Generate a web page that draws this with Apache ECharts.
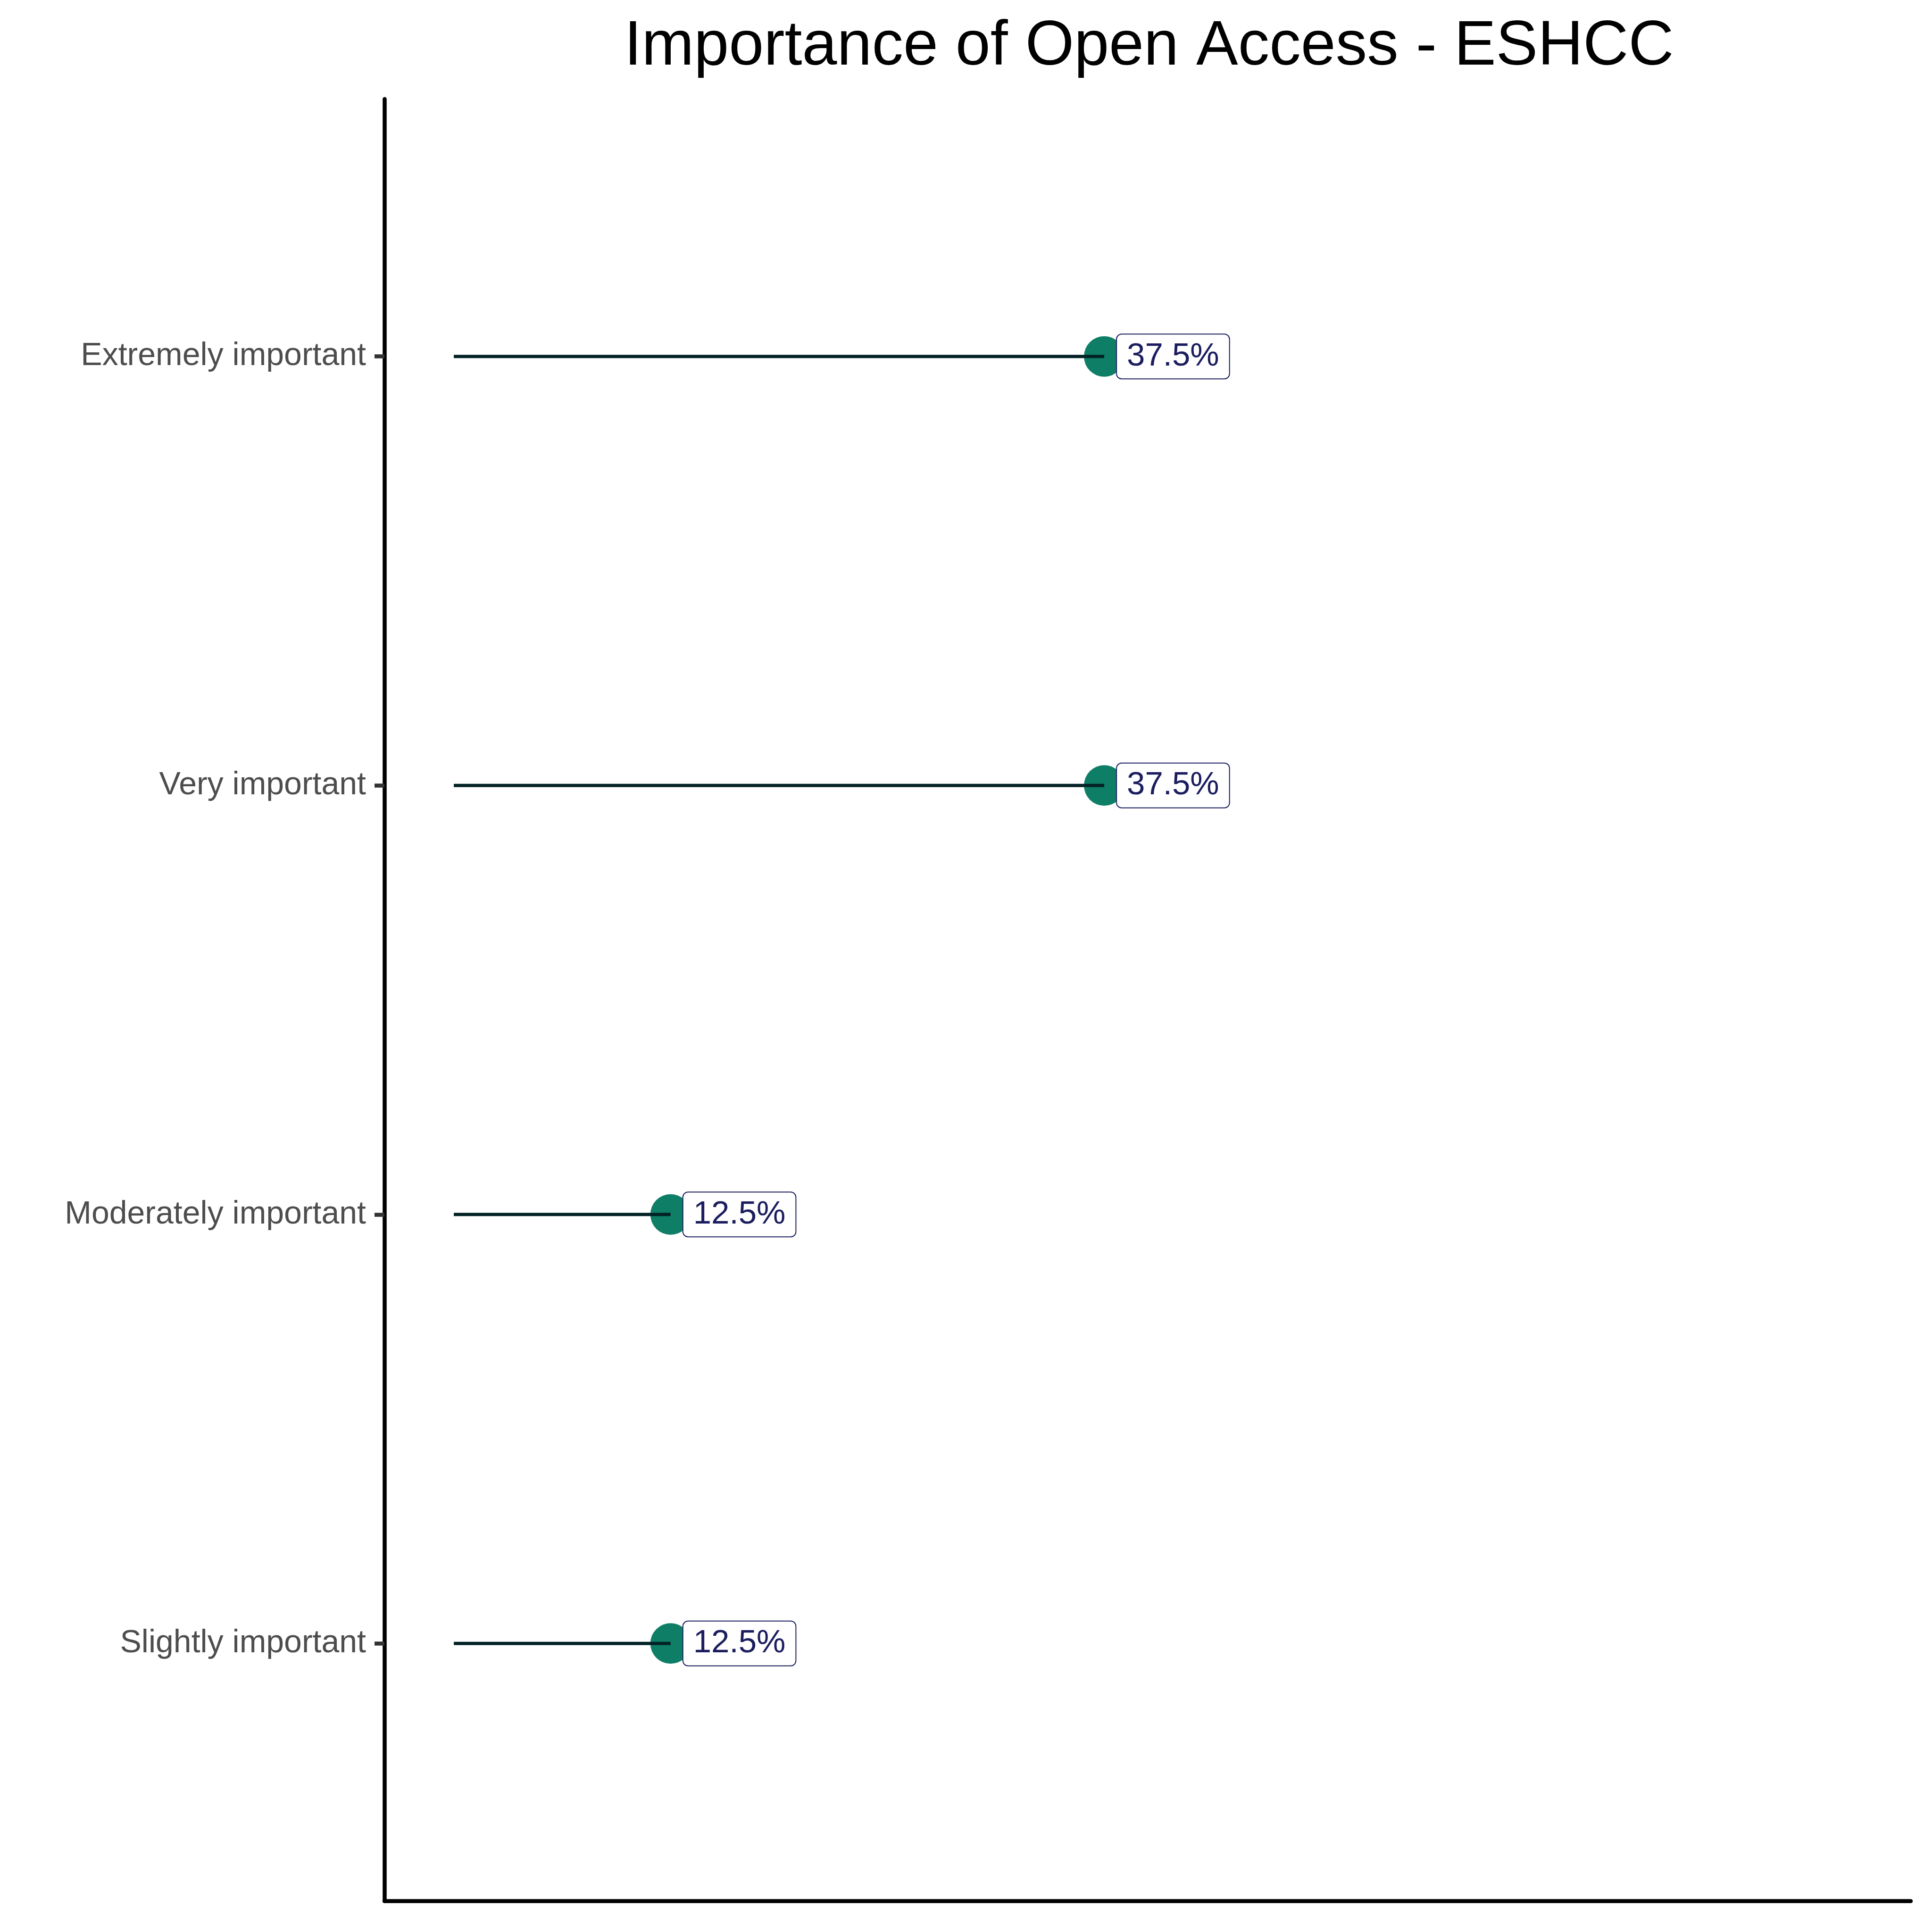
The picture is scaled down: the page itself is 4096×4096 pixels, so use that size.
<!DOCTYPE html>
<html><head><meta charset="utf-8">
<script src="https://cdn.jsdelivr.net/npm/echarts@6/dist/echarts.min.js"></script>
<style>html,body{margin:0;padding:0;background:#fff}#c{width:4096px;height:4096px}</style>
</head><body><div id="c"></div>
<script>
const titleText = 'Importance of Open Access - ESHCC';
const categories = ['Extremely important', 'Very important', 'Moderately important', 'Slightly important'];
const percents = [37.5, 37.5, 12.5, 12.5];
const yTickValues = [0, 1, 2, 3];

const n = categories.length;
const points = percents.map((v, i) => [v, n - 1 - i]);
const FONT = 'Liberation Sans';
const chart = echarts.init(document.getElementById('c'), null, {renderer: 'canvas'});

const option = {
  animation: false,
  backgroundColor: '#ffffff',
  grid: {left: 815, right: 45, top: 210, bottom: 66, containLabel: false, outerBoundsMode: 'none'},
  graphic: [{
    type: 'text', x: 2436, y: 100, z: 100,
    style: {text: titleText, fontFamily: FONT, fontSize: 133, fill: '#000000',
            align: 'center', verticalAlign: 'middle', lineHeight: 133}
  }],
  xAxis: {
    type: 'value', min: -4, max: 84,
    axisLine: {show: true, onZero: false, lineStyle: {color: '#000000', width: 8.5}},
    axisTick: {show: false}, axisLabel: {show: false}, splitLine: {show: false}
  },
  yAxis: {
    type: 'value', min: -0.6, max: 3.6,
    axisLine: {show: true, onZero: false, lineStyle: {color: '#000000', width: 8.5}},
    axisTick: {show: true, customValues: yTickValues, length: 21, lineStyle: {color: '#333333', width: 8.5}},
    axisLabel: {show: true, customValues: yTickValues, margin: 39, padding: [10, 0, 0, 0],
      fontFamily: FONT, fontSize: 68, color: '#4d4d4d',
      formatter: v => categories[n - 1 - Math.round(v)]},
    splitLine: {show: false}
  },
  series: [
    {
      type: 'scatter', z: 2,
      data: points,
      symbol: 'circle', symbolSize: 86,
      itemStyle: {color: '#0e7f66', opacity: 1},
      label: {
        show: true, position: ['50%', '50%'], offset: [27, 0],
        align: 'left', verticalAlign: 'middle',
        formatter: p => p.value[0].toFixed(1) + '%',
        fontFamily: FONT, fontSize: 69, lineHeight: 69, color: '#1b1d5e',
        backgroundColor: '#ffffff', borderColor: '#1b1d5e', borderWidth: 2,
        borderRadius: 10, padding: [15, 21, 9, 21]
      },
      emphasis: {disabled: true}
    },
    {
      type: 'custom', z: 3,
      data: points,
      encode: {x: 0, y: 1},
      renderItem: (params, api) => {
        const y = api.value(1);
        const p0 = api.coord([0, y]);
        const p1 = api.coord([api.value(0), y]);
        return {type: 'line', shape: {x1: p0[0], y1: p0[1], x2: p1[0], y2: p1[1]},
                style: {stroke: '#022226', lineWidth: 7, lineCap: 'butt'}};
      }
    }
  ]
};
chart.setOption(option);
</script></body></html>
